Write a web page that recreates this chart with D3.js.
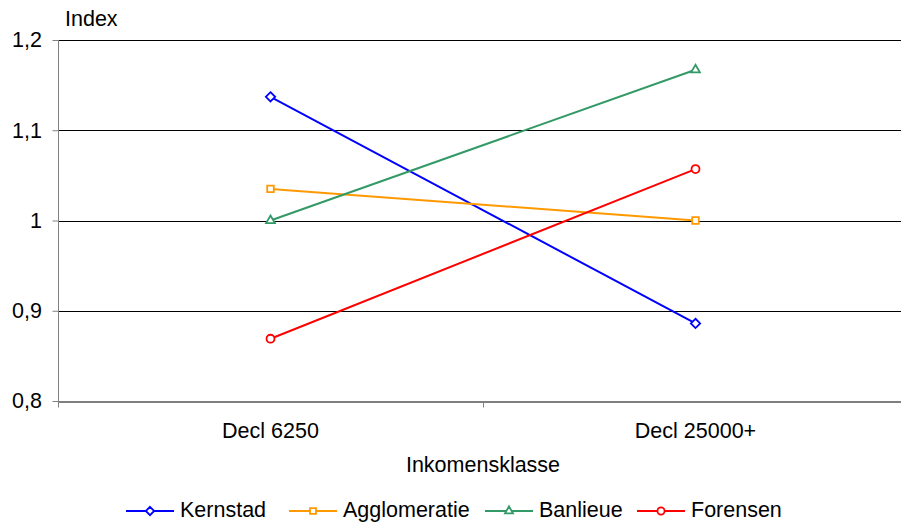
<!DOCTYPE html>
<html>
<head>
<meta charset="utf-8">
<script src="https://cdn.jsdelivr.net/npm/d3@7"></script>
<style>
  body { margin: 0; background: #fff; }
  svg { display: block; font-family: "Liberation Sans", Arial, sans-serif; }
</style>
</head>
<body>
<div id="chart"></div>
<script>
const categories = ["Decl 6250", "Decl 25000+"];
const seriesNames = ["Kernstad", "Agglomeratie", "Banlieue", "Forensen"];
const kernstad = [1.137, 0.886];
const agglomeratie = [1.035, 1.0];
const banlieue = [1.0, 1.167];
const forensen = [0.869, 1.057];
const yTicks = [0.8, 0.9, 1.0, 1.1, 1.2];

const colors = ["#0000ff", "#ff9900", "#339966", "#ff0000"];
const symbols = [d3.symbolDiamond2, d3.symbolSquare2, d3.symbolTriangle2, d3.symbolCircle];
const series = [kernstad, agglomeratie, banlieue, forensen].map((values, i) => ({
  name: seriesNames[i], values, color: colors[i], symbol: symbols[i]
}));

const W = 901, H = 523;
const margin = {top: 40, right: -7, bottom: 122, left: 58};
const w = W - margin.left - margin.right;
const h = H - margin.top - margin.bottom;
const fs = 21.5;

const svg = d3.select("#chart").append("svg").attr("width", W).attr("height", H);
const g = svg.append("g").attr("transform", `translate(${margin.left}, ${margin.top})`);

const x = d3.scaleBand().domain(categories).range([0, w]);
const y = d3.scaleLinear().domain([0.8, 1.2]).range([h, 0]);
const fmt = d => d3.format(".1f")(d).replace(".", ",").replace(",0", "");

// gridlines
g.append("g")
  .selectAll("line")
  .data(yTicks.slice(1))
  .join("line")
    .attr("x1", 0).attr("x2", w)
    .attr("y1", d => Math.round(y(d)) + 0.5).attr("y2", d => Math.round(y(d)) + 0.5)
    .attr("stroke", "#000").attr("stroke-width", 1);

// y axis
const yAxis = g.append("g")
  .attr("transform", "translate(0.5,0)")
  .call(d3.axisLeft(y).tickValues(yTicks).tickFormat(fmt).tickSize(6).tickPadding(10.5));
yAxis.select(".domain").attr("stroke", "#808080").attr("d", `M0,${h}V0`);
yAxis.selectAll(".tick line").attr("stroke", "#808080");
yAxis.selectAll("text").attr("font-size", fs).attr("fill", "#000").attr("font-family", null);

// x axis
const xAxis = g.append("g")
  .attr("transform", `translate(0,${h + 0.5})`)
  .call(d3.axisBottom(x).tickSize(0).tickPadding(21));
xAxis.select(".domain").attr("stroke", "#000");
xAxis.selectAll("text").attr("font-size", fs).attr("fill", "#000").attr("font-family", null);
// tick marks between categories
xAxis.append("g")
  .selectAll("line")
  .data(categories)
  .join("line")
    .attr("x1", d => Math.round(x(d)) + 0.5).attr("x2", d => Math.round(x(d)) + 0.5)
    .attr("y1", 0).attr("y2", 6)
    .attr("stroke", "#808080");

// axis titles
svg.append("text")
  .attr("x", 65).attr("y", 26)
  .attr("font-size", fs)
  .text("Index");
svg.append("text")
  .attr("x", margin.left + w / 2).attr("y", 472)
  .attr("text-anchor", "middle")
  .attr("font-size", fs)
  .text("Inkomensklasse");

// lines
const line = d3.line()
  .x((d, i) => x(categories[i]) + x.bandwidth() / 2)
  .y(d => y(d));

const sg = g.append("g")
  .selectAll("g")
  .data(series)
  .join("g");

sg.append("path")
  .attr("d", d => line(d.values))
  .attr("fill", "none")
  .attr("stroke", d => d.color)
  .attr("stroke-width", 2);

sg.selectAll("path.marker")
  .data(d => d.values.map((v, i) => ({v, i, s: d})))
  .join("path")
    .attr("class", "marker")
    .attr("transform", d => `translate(${x(categories[d.i]) + x.bandwidth() / 2},${y(d.v)})`)
    .attr("d", d => d3.symbol().type(d.s.symbol).size(d.s.symbol === d3.symbolCircle ? 50 : 55)())
    .attr("fill", "#fff")
    .attr("stroke", d => d.s.color)
    .attr("stroke-width", 1.8);

// legend
const legendX = [126, 289, 485, 637];
const legend = svg.append("g")
  .selectAll("g")
  .data(series)
  .join("g")
    .attr("transform", (d, i) => `translate(${legendX[i]}, 511)`);
legend.append("line")
  .attr("x1", 0).attr("x2", 48)
  .attr("stroke", d => d.color).attr("stroke-width", 2);
legend.append("path")
  .attr("transform", "translate(24,0)")
  .attr("d", d => d3.symbol().type(d.symbol).size(d.symbol === d3.symbolCircle ? 40 : 45)())
  .attr("fill", "#fff")
  .attr("stroke", d => d.color)
  .attr("stroke-width", 1.8);
legend.append("text")
  .attr("x", 54).attr("y", 6)
  .attr("font-size", fs)
  .text(d => d.name);
</script>
</body>
</html>
